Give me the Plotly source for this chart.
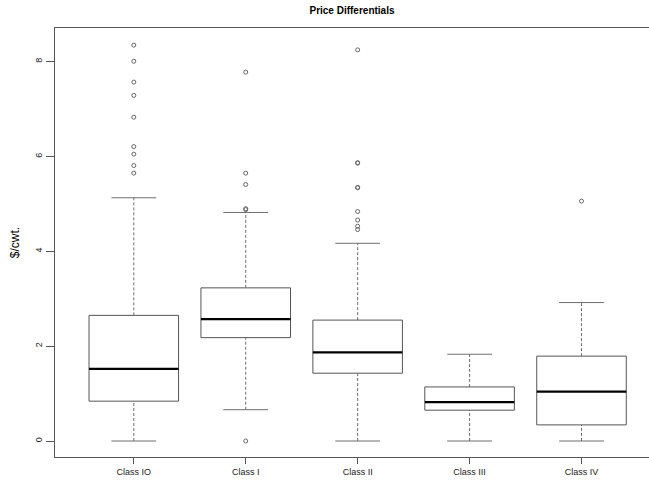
import plotly.graph_objects as go

categories = ["Class IO", "Class I", "Class II", "Class III", "Class IV"]
lower_whisker = [0.0, 0.66, 0.0, 0.0, 0.0]
q1 = [0.84, 2.18, 1.43, 0.65, 0.34]
median = [1.52, 2.57, 1.87, 0.82, 1.04]
q3 = [2.65, 3.23, 2.55, 1.14, 1.79]
upper_whisker = [5.13, 4.82, 4.17, 1.83, 2.92]
outliers = [
    [8.35, 8.01, 7.57, 7.29, 6.83, 6.21, 6.05, 5.81, 5.65],
    [7.78, 5.65, 5.41, 4.90, 4.88, 0.0],
    [8.25, 5.87, 5.86, 5.35, 5.34, 4.84, 4.66, 4.53, 4.46],
    [],
    [5.06],
]

BOX_HALF = 0.4
CAP_HALF = 0.2
box_col = "#555555"
whisk_col = "#6e6e6e"

fig = go.Figure()
for i, cat in enumerate(categories):
    # dashed whiskers
    for a, b in [(q3[i], upper_whisker[i]), (lower_whisker[i], q1[i])]:
        fig.add_trace(go.Scatter(x=[i, i], y=[a, b], mode="lines",
                                 line=dict(color=whisk_col, width=1, dash="3px,2px"),
                                 hoverinfo="skip", showlegend=False))
    # caps
    for v in [upper_whisker[i], lower_whisker[i]]:
        fig.add_trace(go.Scatter(x=[i - CAP_HALF, i + CAP_HALF], y=[v, v], mode="lines",
                                 line=dict(color=whisk_col, width=1),
                                 hoverinfo="skip", showlegend=False))
    # box
    fig.add_trace(go.Scatter(x=[i - BOX_HALF, i + BOX_HALF, i + BOX_HALF, i - BOX_HALF, i - BOX_HALF],
                             y=[q1[i], q1[i], q3[i], q3[i], q1[i]], mode="lines",
                             fill="toself", fillcolor="white",
                             line=dict(color=box_col, width=1),
                             hoverinfo="skip", showlegend=False))
    # median
    fig.add_trace(go.Scatter(x=[i - BOX_HALF, i + BOX_HALF], y=[median[i], median[i]], mode="lines",
                             line=dict(color="black", width=2.2),
                             hoverinfo="skip", showlegend=False))
    # outliers
    if outliers[i]:
        fig.add_trace(go.Scatter(x=[i] * len(outliers[i]), y=outliers[i], mode="markers",
                                 marker=dict(symbol="circle-open", size=4, color="#666666",
                                             line=dict(width=1)),
                                 hoverinfo="skip", showlegend=False))

fig.update_layout(
    width=649, height=480,
    margin=dict(l=55, r=0, t=28, b=23, autoexpand=False),
    paper_bgcolor="white", plot_bgcolor="white",
    font=dict(family="Liberation Sans, Arial, sans-serif", size=9, color="#222222"),
    title=dict(text="<b>Price Differentials</b>", x=(55 + 649) / 2 / 649, xanchor="center",
               y=1 - 10 / 480, yanchor="middle", font=dict(size=10, color="black")),
    xaxis=dict(range=[-0.704, 4.603], tickvals=list(range(len(categories))), ticktext=categories,
               showgrid=False, zeroline=False, showline=True, mirror=True,
               linecolor="#555555", linewidth=1, ticks="outside", ticklen=6,
               tickcolor="#555555", tickfont=dict(size=9, color="#222222"), automargin=False),
    yaxis=dict(range=[-0.3375, 8.711], tickvals=[0, 2, 4, 6, 8], ticktext=["0", "2", "4", "6", "8"],
               showgrid=False, zeroline=False, showline=True, mirror=False,
               linecolor="#555555", linewidth=1, ticks="outside", ticklen=8,
               tickcolor="#555555", tickangle=-90, tickfont=dict(size=9, color="#222222"),
               automargin=False,
               title=dict(text="$/cwt.", font=dict(size=12, color="black"), standoff=12)),
)

fig.write_html("out.html", config={"displayModeBar": False},
               post_script="document.body.style.margin='0';document.body.style.overflow='hidden';")
